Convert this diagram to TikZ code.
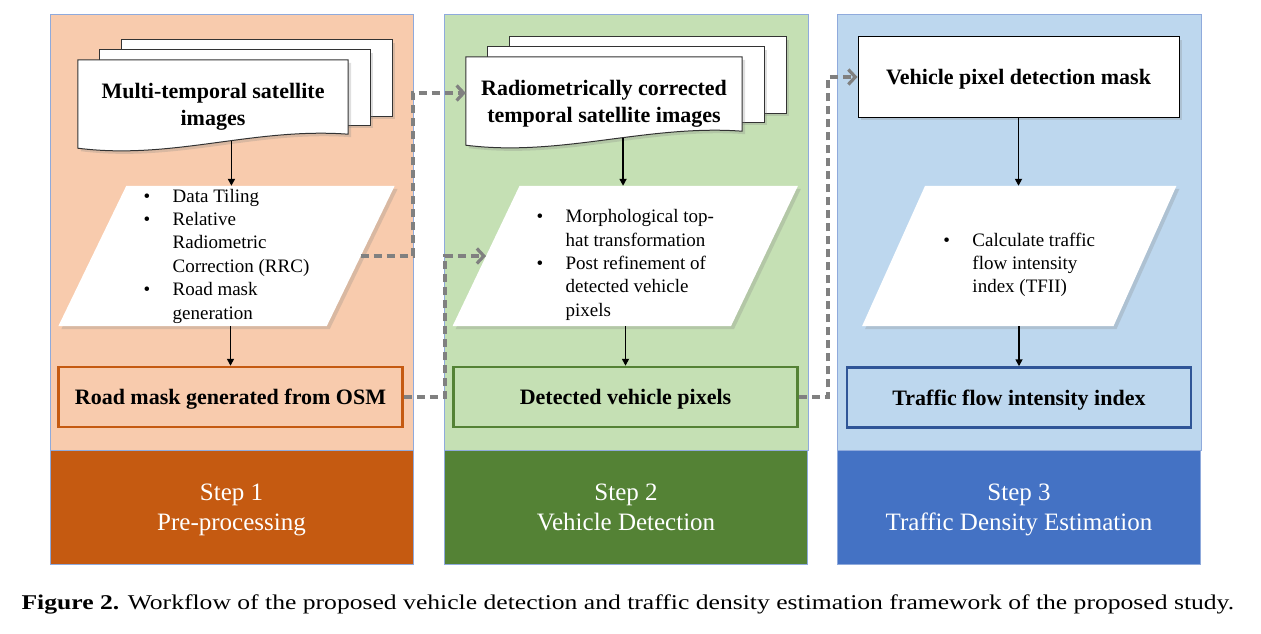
\documentclass[tikz,border=0pt]{standalone}
\usepackage{fontspec}
\setmainfont{Liberation Serif}
\newfontfamily\capfont[FakeStretch=1.22]{Liberation Serif}
\usetikzlibrary{arrows.meta,shadows,positioning}
\definecolor{prepanel}{HTML}{F8CBAD}
\definecolor{prestep}{HTML}{C55A11}
\definecolor{detpanel}{HTML}{C5E0B4}
\definecolor{detstep}{HTML}{548235}
\definecolor{estpanel}{HTML}{BDD7EE}
\definecolor{eststep}{HTML}{4472C4}
\definecolor{estedge}{HTML}{2F5597}
\definecolor{paneledge}{HTML}{8FAADC}
\definecolor{linkgray}{HTML}{808080}

\newcommand{\bul}{\makebox[29pt][l]{\textbullet}}
\newcommand{\ind}{\hspace*{29pt}}
\newcommand{\toppad}{\rule{0pt}{31pt}}

\pgfdeclarelayer{bg}
\pgfdeclarelayer{paper}
\pgfsetlayers{bg,paper,main}

\tikzset{
  panel/.style={draw=paneledge, line width=0.6pt},
  stepbox/.style={panel, minimum width=363pt, minimum height=114pt, text=white,
    text depth=0pt, font=\fontsize{25}{30}\selectfont, align=center},
  softshadow/.style={drop shadow={shadow xshift=3pt, shadow yshift=-3pt, opacity=0.25}},
  sheet/.style={draw=black!80, fill=white, line width=1pt, softshadow},
  docnode/.style={minimum height=88pt, inner sep=0pt, align=center, text depth=0pt,
    font=\fontsize{22}{27}\selectfont\bfseries},
  taskbox/.style={minimum height=140pt, inner sep=0pt, align=left,
    font=\fontsize{19}{23.4}\selectfont},
  slab/.style={fill=white, softshadow},
  outbox/.style={draw, line width=2.5pt, minimum width=344pt, minimum height=60pt,
    text depth=0pt, font=\fontsize{22}{27}\selectfont\bfseries},
  flow/.style={-{Triangle[length=7pt,width=7pt]}, line width=1.6pt},
  dashlink/.style={draw=linkgray, line width=3.2pt, dash pattern=on 8pt off 5pt,
    -{Straight Barb[length=7pt,width=15pt]}},
}

\begin{document}
\begin{tikzpicture}[x=1pt,y=-1pt]
  \useasboundingbox (0,0) rectangle (1261,634);

  % panels
  \begin{pgfonlayer}{bg}
    \draw[panel, fill=prepanel] (50,14) rectangle (413,450);
    \draw[panel, fill=detpanel] (444,14) rectangle (808,450);
    \draw[panel, fill=estpanel] (837,14) rectangle (1201,450);
  \end{pgfonlayer}
  \node[stepbox, fill=prestep] (step1) at (231.5,507) {Step 1\\Pre-processing};
  \node[stepbox, fill=detstep] (step2) at (626,507) {Step 2\\Vehicle Detection};
  \node[stepbox, fill=eststep] (step3) at (1019,507) {Step 3\\Traffic Density Estimation};

  % step 1
  \node[docnode, minimum width=270pt] (doc1) at (213,104) {Multi-temporal satellite\\images};
  \node[taskbox, minimum width=268pt] (task1) at (226.5,256)
    {\bul Data Tiling\\ \bul Relative\\ \ind Radiometric\\ \ind Correction (RRC)\\ \bul Road mask\\ \ind generation};
  \node[outbox, draw=prestep] (out1) at (230.5,397) {Road mask generated from OSM};

  % step 2
  \node[docnode, minimum width=276pt] (doc2) at (604,101) {Radiometrically corrected\\temporal satellite images};
  \node[taskbox, minimum width=278pt] (task2) at (625.25,256)
    {\toppad\bul Morphological top-\\ \ind hat transformation\\ \bul Post refinement of\\ \ind detected vehicle\\ \ind pixels};
  \node[outbox, draw=detstep] (out2) at (625.5,397) {Detected vehicle pixels};

  % step 3
  \node[draw, fill=white, line width=1pt, softshadow, minimum width=321pt, minimum height=80pt, text depth=0pt,
    font=\fontsize{22}{27}\selectfont\bfseries] (mask3) at (1018.5,77) {Vehicle pixel detection mask};
  \node[taskbox, minimum width=251pt] (task3) at (1019.25,256)
    {\toppad\bul Calculate traffic\\ \ind flow intensity\\ \ind index (TFII)};
  \node[outbox, draw=estedge] (out3) at (1019,397.5) {Traffic flow intensity index};

  % stacked sheets and slanted task boxes
  \begin{pgfonlayer}{paper}
    \foreach \d/\w in {doc1/w1, doc2/w2}{
      \foreach \k in {2,1}
        \draw[sheet] ([shift={(22*\k,-10*\k)}]\d.north west) rectangle ([shift={(22*\k,-14-9*\k)}]\d.south east);
      \draw[sheet] ([yshift=14pt]\d.south east) -- (\d.north east) -- (\d.north west) -- (\d.south west)
        .. controls +(95,12) and +(-95,-7) .. coordinate[pos=0.57] (\w) ([yshift=14pt]\d.south east) -- cycle;
    }
    \foreach \t/\s in {task1/34, task2/33.5, task3/31.5}
      \path[slab] ([xshift=\s pt]\t.north west) -- ([xshift=\s pt]\t.north east)
        -- ([xshift=-\s pt]\t.south east) -- ([xshift=-\s pt]\t.south west) -- cycle;
  \end{pgfonlayer}

  \draw[flow] (w1) -- (task1.north -| w1);
  \draw[flow] (task1.south -| out1) -- (out1.north);
  \draw[flow] (w2) -- (task2.north -| w2);
  \draw[flow] (task2.south -| out2) -- (out2.north);
  \draw[flow] (mask3.south) -- (task3.north -| mask3);
  \draw[flow] (task3.south -| out3) -- (out3.north);

  % links between steps
  \coordinate (gap1) at (413,0);
  \coordinate (gap2) at (445,0);
  \coordinate (gap3) at (828,0);
  \draw[dashlink] (task1.east) -- (task1.east -| gap1) |- ([yshift=8pt]doc2.west);
  \draw[dashlink] (out1.east) -- (out1.east -| gap2) |- (task2.west);
  \draw[dashlink] (out2.east) -- (out2.east -| gap3) |- (mask3.west);

  \node[anchor=west, font=\capfont\fontsize{21}{25}\selectfont] (caption) at (18,604)
    {\textbf{Figure 2.} Workflow of the proposed vehicle detection and traffic density estimation framework of the proposed study.};
\end{tikzpicture}
\end{document}
